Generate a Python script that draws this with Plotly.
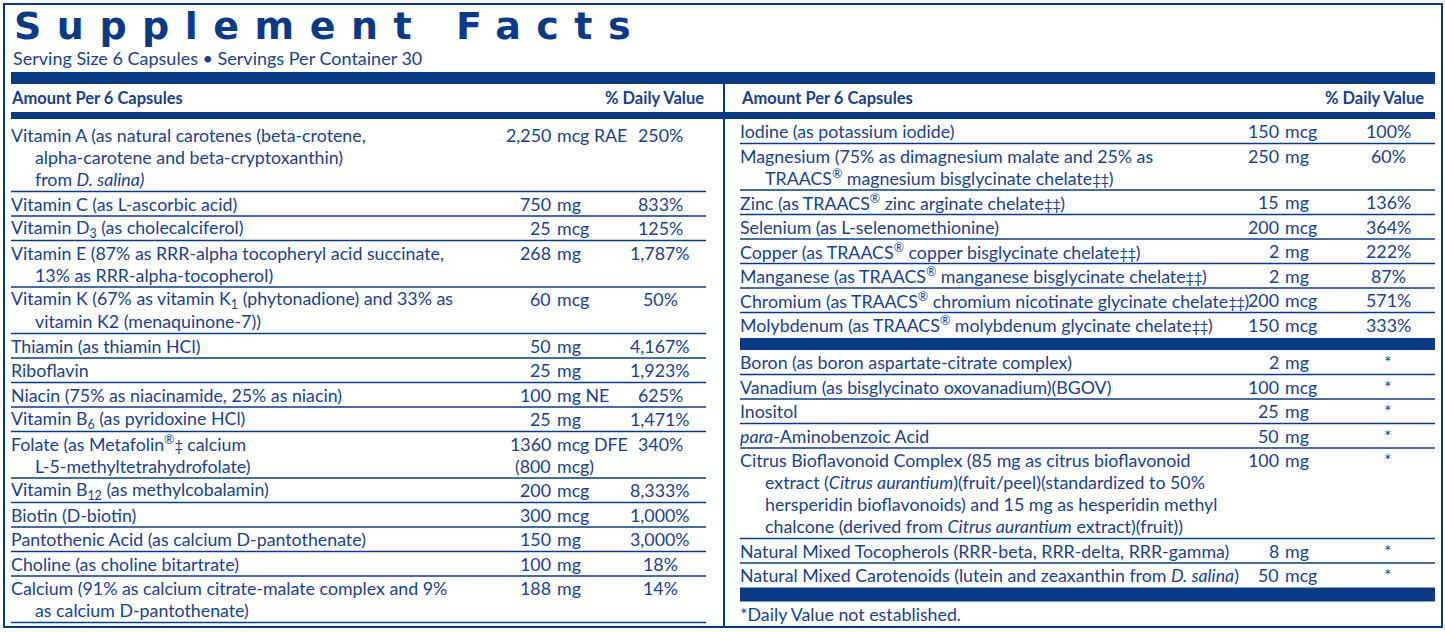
import plotly.graph_objects as go

NAVY = "#0b3a84"
INK = "#1a3f8c"
BODY = "Lato, Roboto, sans-serif"

title_text = "Supplement Facts"
serving_text = "Serving Size 6 Capsules • Servings Per Container 30"
header_amount = "Amount Per 6 Capsules"
header_dv = "% Daily Value"
footnote_text = "*Daily Value not established."

# left column
left_names = [
    ["Vitamin A (as natural carotenes (beta-crotene,",
     "alpha-carotene and beta-cryptoxanthin)",
     "from <i>D. salina)</i>"],
    ["Vitamin C (as L-ascorbic acid)"],
    ["Vitamin D<sub>3</sub> (as cholecalciferol)"],
    ["Vitamin E (87% as RRR-alpha tocopheryl acid succinate,",
     "13% as RRR-alpha-tocopherol)"],
    ["Vitamin K (67% as vitamin K<sub>1</sub> (phytonadione) and 33% as",
     "vitamin K2 (menaquinone-7))"],
    ["Thiamin (as thiamin HCl)"],
    ["Riboflavin"],
    ["Niacin (75% as niacinamide, 25% as niacin)"],
    ["Vitamin B<sub>6</sub> (as pyridoxine HCl)"],
    ["Folate (as Metafolin<sup>®</sup>‡ calcium",
     "L-5-methyltetrahydrofolate)"],
    ["Vitamin B<sub>12</sub> (as methylcobalamin)"],
    ["Biotin (D-biotin)"],
    ["Pantothenic Acid (as calcium D-pantothenate)"],
    ["Choline (as choline bitartrate)"],
    ["Calcium (91% as calcium citrate-malate complex and 9%",
     "as calcium D-pantothenate)"],
]
left_amounts = [
    ["2,250 mcg RAE"], ["750 mg"], ["25 mcg"], ["268 mg"], ["60 mcg"],
    ["50 mg"], ["25 mg"], ["100 mg NE"], ["25 mg"], ["1360 mcg DFE", "(800 mcg)"],
    ["200 mcg"], ["300 mcg"], ["150 mg"], ["100 mg"], ["188 mg"],
]
left_dv = ["250%", "833%", "125%", "1,787%", "50%", "4,167%", "1,923%", "625%",
           "1,471%", "340%", "8,333%", "1,000%", "3,000%", "18%", "14%"]

# right column, minerals
right_names = [
    ["Iodine (as potassium iodide)"],
    ["Magnesium (75% as dimagnesium malate and 25% as",
     "TRAACS<sup>®</sup> magnesium bisglycinate chelate‡‡)"],
    ["Zinc (as TRAACS<sup>®</sup> zinc arginate chelate‡‡)"],
    ["Selenium (as L-selenomethionine)"],
    ["Copper (as TRAACS<sup>®</sup> copper bisglycinate chelate‡‡)"],
    ["Manganese (as TRAACS<sup>®</sup> manganese bisglycinate chelate‡‡)"],
    ["Chromium (as TRAACS<sup>®</sup> chromium nicotinate glycinate chelate‡‡)"],
    ["Molybdenum (as TRAACS<sup>®</sup> molybdenum glycinate chelate‡‡)"],
]
right_amounts = [["150 mcg"], ["250 mg"], ["15 mg"], ["200 mcg"], ["2 mg"],
                 ["2 mg"], ["200 mcg"], ["150 mcg"]]
right_dv = ["100%", "60%", "136%", "364%", "222%", "87%", "571%", "333%"]

# right column, other ingredients
other_names = [
    ["Boron (as boron aspartate-citrate complex)"],
    ["Vanadium (as bisglycinato oxovanadium)(BGOV)"],
    ["Inositol"],
    ["<i>para</i>-Aminobenzoic Acid"],
    ["Citrus Bioflavonoid Complex (85 mg as citrus bioflavonoid",
     "extract (<i>Citrus aurantium</i>)(fruit/peel)(standardized to 50%",
     "hersperidin bioflavonoids) and 15 mg as hesperidin methyl",
     "chalcone (derived from <i>Citrus aurantium</i> extract)(fruit))"],
    ["Natural Mixed Tocopherols (RRR-beta, RRR-delta, RRR-gamma)"],
    ["Natural Mixed Carotenoids (lutein and zeaxanthin from <i>D. salina</i>)"],
]
other_amounts = [["2 mg"], ["100 mcg"], ["25 mg"], ["50 mg"], ["100 mg"],
                 ["8 mg"], ["50 mcg"]]
other_dv = ["*"] * 7

ROW_H = 24.5
LINE_H = 22.0
BODY_SIZE = 17.8

fig = go.Figure()
shapes = []
notes = []


def text(x, y, s, anchor="left", size=BODY_SIZE, bold=False, family=BODY, color=INK):
    # the double daggers are narrow in the original artwork
    s = s.replace("‡", '<span style="font-size:15px;letter-spacing:-0.5px">‡</span>')
    notes.append(dict(
        x=x, y=y, text=s, xref="x", yref="y", showarrow=False,
        xanchor=anchor, yanchor="middle",
        font=dict(family=family, size=size, color=color,
                  weight="bold" if bold else "normal"),
    ))


def hline(x0, x1, y, width=1.3):
    shapes.append(dict(type="line", xref="x", yref="y", x0=x0, x1=x1, y0=y, y1=y,
                       line=dict(color=NAVY, width=width)))


def bar(x0, x1, y0, y1):
    shapes.append(dict(type="rect", xref="x", yref="y", x0=x0, x1=x1, y0=y0, y1=y1,
                       fillcolor=NAVY, line=dict(width=0)))


def rows(names, amounts, dvs, y, cols, last_rule=True, pad=0):
    x_name, x_indent, x_num, x_dv, x0, x1 = cols
    y += pad
    for i, (name, amt, dv) in enumerate(zip(names, amounts, dvs)):
        yc = y + 12
        for k, line in enumerate(name):
            text(x_name if k == 0 else x_indent, yc + k * LINE_H, line)
        for k, line in enumerate(amt):
            num, unit = line.split(" ", 1)
            text(x_num, yc + k * LINE_H, num, anchor="right")
            text(x_num + 2, yc + k * LINE_H, unit)
        text(x_dv, yc, dv, anchor="center")
        y += ROW_H + LINE_H * (len(name) - 1)
        if last_rule or i < len(names) - 1:
            hline(x0, x1, y)
    return y


LEFT = (9, 33, 553, 660, 11, 706)
RIGHT = (738, 763, 1281, 1388, 740, 1435)

# title block
text(12, 26, '<span style="letter-spacing:15.5px">' + title_text + "</span>",
     size=38, bold=True, family="DejaVu Sans", color=NAVY)
text(11, 58, serving_text, size=18)

# headers
bar(11, 1435, 72, 84)
for x_left, x_right in [(9, 706), (739, 1426)]:
    text(x_left, 98, header_amount, size=16.5, bold=True)
    text(x_right, 98, header_dv, anchor="right", size=16.5, bold=True)
bar(11, 1435, 112, 119)

rows(left_names, left_amounts, left_dv, 119, LEFT, pad=4)
y = rows(right_names, right_amounts, right_dv, 119, RIGHT, last_rule=False)
bar(740, 1435, y + 1, y + 13)
y = rows(other_names, other_amounts, other_dv, y + 13, RIGHT, last_rule=False)
bar(740, 1435, y, y + 14)
text(738, y + 26, footnote_text)

# frame and column divider
shapes.append(dict(type="line", xref="x", yref="y", x0=724, x1=724, y0=72, y1=627,
                   line=dict(color=NAVY, width=2)))
shapes.append(dict(type="rect", xref="x", yref="y", x0=4, x1=1442, y0=4, y1=627,
                   line=dict(color=NAVY, width=2)))

fig.update_layout(
    width=1445, height=632, autosize=False,
    margin=dict(l=0, r=0, t=0, b=0),
    paper_bgcolor="white", plot_bgcolor="white",
    xaxis=dict(range=[0, 1445], visible=False, fixedrange=True),
    yaxis=dict(range=[632, 0], visible=False, fixedrange=True),
    shapes=shapes, annotations=notes, showlegend=False,
)
fig.write_html("out.html", config={"displayModeBar": False},
               post_script="document.body.style.margin='0';")
